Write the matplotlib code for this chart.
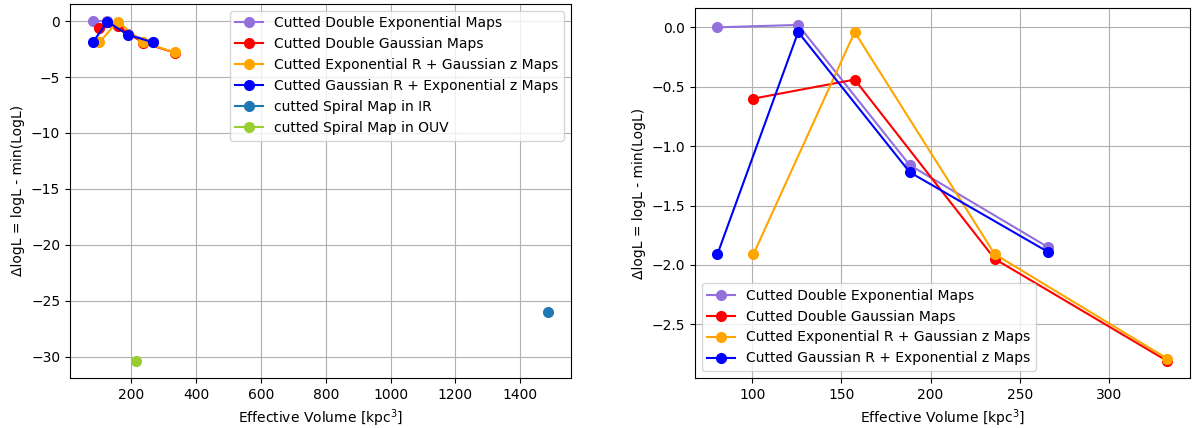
import matplotlib
matplotlib.use("Agg")
import matplotlib.pyplot as plt

# effective volumes [kpc^3] and delta logL for each cut map family
vol_dexp = [80.4, 125.7, 188.3, 265.8]
dlogl_dexp = [0.0, 0.02, -1.16, -1.85]

vol_dgauss = [100.6, 157.4, 236.0, 332.9]
dlogl_dgauss = [-0.60, -0.44, -1.95, -2.81]

vol_expR_gaussZ = [100.6, 157.4, 236.0, 332.9]
dlogl_expR_gaussZ = [-1.91, -0.04, -1.91, -2.79]

vol_gaussR_expZ = [80.4, 125.7, 188.3, 265.8]
dlogl_gaussR_expZ = [-1.91, -0.04, -1.22, -1.89]

vol_spiral_ir = [1487.0]
dlogl_spiral_ir = [-26.0]

vol_spiral_ouv = [215.0]
dlogl_spiral_ouv = [-30.38]

models = [
    ("Cutted Double Exponential Maps", vol_dexp, dlogl_dexp, "mediumpurple"),
    ("Cutted Double Gaussian Maps", vol_dgauss, dlogl_dgauss, "red"),
    ("Cutted Exponential R + Gaussian z Maps", vol_expR_gaussZ, dlogl_expR_gaussZ, "orange"),
    ("Cutted Gaussian R + Exponential z Maps", vol_gaussR_expZ, dlogl_gaussR_expZ, "blue"),
]

ms = 7

fig = plt.figure(figsize=(11.92, 4.28), dpi=100)
ax1 = fig.add_axes([0.0587, 0.117, 0.4203, 0.874])
ax2 = fig.add_axes([0.583, 0.117, 0.4153, 0.864])

for label, x, y, c in models:
    ax1.plot(x, y, "-o", color=c, ms=ms, label=label)
ax1.plot(vol_spiral_ir, dlogl_spiral_ir, "-o", color="#1f77b4", ms=ms, label="cutted Spiral Map in IR")
ax1.plot(vol_spiral_ouv, dlogl_spiral_ouv, "-o", color="yellowgreen", ms=ms, label="cutted Spiral Map in OUV")
ax1.legend(loc="upper right")

for label, x, y, c in models:
    ax2.plot(x, y, "-o", color=c, ms=ms, label=label)
ax2.legend(loc="lower left")

for ax in (ax1, ax2):
    ax.grid(True)
    ax.set_xlabel("Effective Volume [kpc$^3$]")
    ax.set_ylabel("ΔlogL = logL - min(LogL)")

fig.savefig("out.png", dpi=100)
